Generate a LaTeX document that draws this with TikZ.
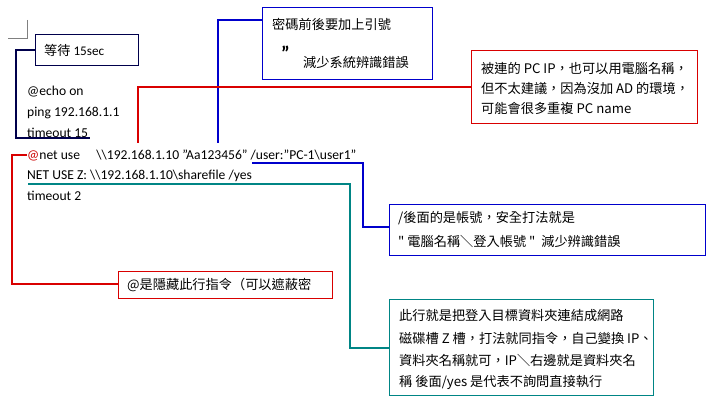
\documentclass[tikz,border=0pt]{standalone}
\usepackage{fontspec}
\setmainfont{Carlito}
\newfontfamily\cjk{Noto Sans CJK TC}
\begin{document}
\begin{tikzpicture}[x=1pt,y=-1pt,
 code/.style={anchor=west,inner sep=0pt,font=\fontsize{13.6}{15}\selectfont},
 note/.style={draw,line width=1.3pt,anchor=north west,inner sep=0pt},
 ntxt/.style={anchor=west,inner sep=0pt,font=\cjk\fontsize{13.2}{15}\selectfont},
 conn/.style={line width=1.2pt}]
\useasboundingbox[fill=white] (0,0) rectangle (720,414);
\draw[gray] (27,20) -- (27,38) -- (8,38);
% code lines
\node[code] (l1) at (27,92) {@echo on};
\node[code] (l2) at (27,113) {ping 192.168.1.1};
\node[code] (l3) at (27,133) {timeout 15};
\node[code] (l4) at (27,155) {\textcolor{red!80!black}{@}net use\hspace{1.2em}\textbackslash\textbackslash192.168.1.10 "Aa123456" /user:"PC-1\textbackslash user1"};
\node[code] (l5) at (27,176) {NET USE Z: \textbackslash\textbackslash192.168.1.10\textbackslash sharefile /yes};
\node[code] (l6) at (27,196) {timeout 2};
% boxes
\node[note,draw=blue!30!black,minimum width=103,minimum height=31] (b1) at (35,34) {};
\node[ntxt] at (44,50) {等待 {\fontspec{Carlito}15sec}};
\node[note,draw=blue!80!black,minimum width=170,minimum height=72] (b2) at (262,7) {};
\node[ntxt] at (272,24) {密碼前後要加上引號};
\node[ntxt,font=\bfseries\fontsize{20}{20}\selectfont] at (281,53) {"};
\node[ntxt] at (303,62) {減少系統辨識錯誤};
\node[note,draw=red!85!black,minimum width=226,minimum height=73] (b3) at (471,50) {};
\node[ntxt] at (481,68) {被連的 PC IP，也可以用電腦名稱，};
\node[ntxt] at (481,88) {但不太建議，因為沒加 AD 的環境，};
\node[ntxt] at (481,108) {可能會很多重複 PC name};
\node[note,draw=blue!80!black,minimum width=316,minimum height=51] (b4) at (389,204) {};
\node[ntxt] at (398,218) {/後面的是帳號，安全打法就是};
\node[ntxt] at (398,241) {"\ 電腦名稱＼登入帳號 "\ \ 減少辨識錯誤};
\node[note,draw=red!85!black,minimum width=214,minimum height=27] (b5) at (118,271) {};
\node[ntxt] at (127,285) {@是隱藏此行指令（可以遮蔽密};
\node[note,draw=teal!70!cyan!80!black,minimum width=264,minimum height=96] (b6) at (389,299) {};
\node[ntxt] at (399,316) {此行就是把登入目標資料夾連結成網路};
\node[ntxt] at (399,338) {磁碟槽 Z 槽，打法就同指令，自己變換 IP、};
\node[ntxt] at (399,360) {資料夾名稱就可，IP＼右邊就是資料夾名};
\node[ntxt] at (399,382) {稱\ 後面/yes\ 是代表不詢問直接執行};
% connectors
\coordinate (c1) at (90,138);
\draw[conn,blue!30!black] (b1.west|-0,50) -- (16,50) -- (16,138) -- (c1);
\coordinate (c2) at (218,143);
\draw[conn,blue!80!black] (b2.west|-0,20) -- (218,20) -- (c2);
\coordinate (c3) at (138,143);
\draw[conn,red!85!black] (b3.west|-0,87) -- (138,87) -- (c3);
\coordinate (c4) at (27,155);
\draw[conn,red!85!black] (c4) -- (12,155) -- (12,284) -- (b5.west|-0,284);
\coordinate (c5) at (252,163);
\draw[conn,blue!80!black] (c5) -- (363,163) -- (363,227) -- (b4.west|-0,227);
\coordinate (c6) at (28,184);
\draw[conn,teal!70!cyan!80!black] (c6) -- (350,184) -- (350,348) -- (b6.west|-0,348);
\end{tikzpicture}
\end{document}
